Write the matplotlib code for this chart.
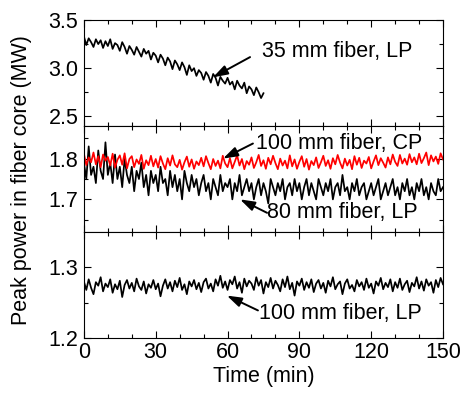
import matplotlib
matplotlib.use("Agg")
import matplotlib.pyplot as plt

plt.rcParams['font.family'] = ['Liberation Sans', 'DejaVu Sans']
plt.rcParams['font.size'] = 15.5

# --- data (1 min steps) ---
t35 = list(range(0, 76))
p35_lp = [3.33, 3.24, 3.31, 3.27, 3.22, 3.30, 3.25, 3.29, 3.21, 3.28,
          3.23, 3.30, 3.20, 3.26, 3.24, 3.18, 3.27, 3.22, 3.15, 3.23,
          3.19, 3.14, 3.22, 3.17, 3.12, 3.20, 3.15, 3.18, 3.09, 3.16,
          3.13, 3.06, 3.14, 3.10, 3.03, 3.11, 3.07, 2.99, 3.08, 3.04,
          2.98, 3.06, 3.01, 2.93, 3.03, 2.97, 3.00, 2.92, 2.98, 2.95,
          2.88, 2.96, 2.92, 2.85, 2.94, 2.90, 2.82, 2.91, 2.87, 2.84,
          2.90, 2.83, 2.86, 2.78, 2.87, 2.82, 2.79, 2.85, 2.74, 2.81,
          2.78, 2.72, 2.80, 2.75, 2.69, 2.74]

t100 = list(range(0, 151))
p100_cp = [1.812, 1.784, 1.803, 1.791, 1.815, 1.786, 1.806, 1.779, 1.810, 1.795,
           1.804, 1.783, 1.812, 1.778, 1.797, 1.808, 1.785, 1.813, 1.776, 1.799,
           1.806, 1.779, 1.798, 1.787, 1.809, 1.775, 1.796, 1.784, 1.807, 1.781,
           1.799, 1.778, 1.806, 1.788, 1.774, 1.801, 1.783, 1.808, 1.786, 1.779,
           1.797, 1.773, 1.791, 1.805, 1.780, 1.798, 1.775, 1.793, 1.784, 1.802,
           1.781, 1.806, 1.789, 1.774, 1.799, 1.782, 1.795, 1.776, 1.807, 1.788,
           1.779, 1.801, 1.776, 1.792, 1.808, 1.783, 1.799, 1.774, 1.794, 1.785,
           1.803, 1.777, 1.791, 1.809, 1.782, 1.796, 1.775, 1.802, 1.786, 1.807,
           1.789, 1.774, 1.800, 1.783, 1.795, 1.776, 1.808, 1.781, 1.798, 1.775,
           1.792, 1.806, 1.780, 1.799, 1.773, 1.794, 1.784, 1.803, 1.777, 1.791,
           1.807, 1.782, 1.796, 1.775, 1.801, 1.786, 1.809, 1.790, 1.776, 1.800,
           1.783, 1.797, 1.774, 1.806, 1.785, 1.802, 1.777, 1.795, 1.788, 1.804,
           1.776, 1.793, 1.808, 1.784, 1.801, 1.790, 1.778, 1.803, 1.786, 1.810,
           1.792, 1.782, 1.809, 1.788, 1.800, 1.785, 1.811, 1.791, 1.803, 1.786,
           1.812, 1.789, 1.801, 1.815, 1.784, 1.808, 1.793, 1.805, 1.787, 1.813,
           1.798]

p80_lp = [1.79, 1.75, 1.83, 1.76, 1.78, 1.74, 1.82, 1.77, 1.75, 1.84,
          1.76, 1.79, 1.74, 1.81, 1.75, 1.78, 1.73, 1.80, 1.76, 1.74,
          1.78, 1.72, 1.77, 1.75, 1.79, 1.73, 1.76, 1.71, 1.77, 1.74,
          1.76, 1.72, 1.78, 1.74, 1.75, 1.71, 1.77, 1.73, 1.76, 1.72,
          1.75, 1.70, 1.77, 1.74, 1.72, 1.76, 1.73, 1.75, 1.71, 1.74,
          1.76, 1.72, 1.74, 1.70, 1.75, 1.73, 1.71, 1.76, 1.72, 1.74,
          1.73, 1.75, 1.70, 1.74, 1.72, 1.76, 1.71, 1.73, 1.75, 1.72,
          1.74, 1.70, 1.73, 1.75, 1.71, 1.74, 1.72, 1.69, 1.75, 1.73,
          1.71, 1.74, 1.72, 1.75, 1.70, 1.73, 1.74, 1.71, 1.75, 1.72,
          1.74, 1.70, 1.73, 1.75, 1.71, 1.74, 1.72, 1.70, 1.75, 1.73,
          1.71, 1.74, 1.72, 1.75, 1.70, 1.73, 1.74, 1.71, 1.76, 1.72,
          1.73, 1.70, 1.74, 1.72, 1.75, 1.71, 1.73, 1.74, 1.70, 1.72,
          1.74, 1.71, 1.73, 1.75, 1.70, 1.72, 1.74, 1.71, 1.73, 1.75,
          1.71, 1.73, 1.70, 1.74, 1.72, 1.75, 1.71, 1.73, 1.70, 1.74,
          1.72, 1.75, 1.71, 1.73, 1.70, 1.74, 1.72, 1.71, 1.75, 1.72,
          1.73]

p100_lp = [1.280, 1.268, 1.283, 1.271, 1.262, 1.279, 1.274, 1.286, 1.266, 1.277,
           1.272, 1.283, 1.264, 1.276, 1.269, 1.281, 1.258, 1.275, 1.282, 1.270,
           1.278, 1.266, 1.284, 1.273, 1.268, 1.280, 1.263, 1.276, 1.271, 1.282,
           1.269, 1.277, 1.259, 1.274, 1.283, 1.270, 1.279, 1.266, 1.281, 1.272,
           1.285, 1.268, 1.276, 1.262, 1.280, 1.273, 1.282, 1.269, 1.278, 1.265,
           1.279, 1.284, 1.270, 1.277, 1.266, 1.283, 1.274, 1.288, 1.271, 1.280,
           1.268, 1.282, 1.276, 1.287, 1.270, 1.279, 1.264, 1.284, 1.273, 1.281,
           1.277, 1.268, 1.286, 1.274, 1.282, 1.263, 1.279, 1.272, 1.285, 1.270,
           1.281, 1.275, 1.266, 1.283, 1.272, 1.287, 1.269, 1.278, 1.260, 1.280,
           1.274, 1.284, 1.268, 1.279, 1.271, 1.283, 1.265, 1.277, 1.282, 1.270,
           1.278, 1.264, 1.281, 1.273, 1.286, 1.269, 1.276, 1.280, 1.262, 1.277,
           1.283, 1.270, 1.275, 1.266, 1.282, 1.273, 1.279, 1.268, 1.284, 1.271,
           1.277, 1.263, 1.280, 1.274, 1.285, 1.269, 1.278, 1.272, 1.283, 1.266,
           1.279, 1.271, 1.284, 1.268, 1.276, 1.281, 1.265, 1.278, 1.273, 1.286,
           1.270, 1.280, 1.267, 1.283, 1.274, 1.279, 1.264, 1.282, 1.272, 1.285,
           1.276]

# --- figure ---
fig = plt.figure(figsize=(4.61, 3.96), dpi=100)
gs = fig.add_gridspec(3, 1, left=0.182, right=0.961, top=0.9495, bottom=0.1465, hspace=0)
ax1 = fig.add_subplot(gs[0])
ax2 = fig.add_subplot(gs[1], sharex=ax1)
ax3 = fig.add_subplot(gs[2], sharex=ax1)

lw = 1.25
ax1.plot(t35, p35_lp, color='black', lw=lw)
ax2.plot(t100, p80_lp, color='black', lw=lw)
ax2.plot(t100, p100_cp, color='red', lw=lw)
ax3.plot(t100, p100_lp, color='black', lw=lw)

ax1.set_ylim(2.4, 3.5)
ax1.set_yticks([2.5, 3.0, 3.5])
ax1.set_yticks([2.75, 3.25], minor=True)
ax2.set_ylim(1.62, 1.88)
ax2.set_yticks([1.7, 1.8])
ax2.set_yticks([1.65, 1.75, 1.85], minor=True)
ax3.set_ylim(1.2, 1.35)
ax3.set_yticks([1.2, 1.3])
ax3.set_yticks([1.25], minor=True)

ax3.set_xlim(0, 150)
ax3.set_xticks(range(0, 151, 30))
ax3.set_xticks(range(0, 151, 10), minor=True)

for ax in (ax1, ax2, ax3):
    ax.tick_params(which='both', direction='in', top=True, right=True, width=0.8)
    ax.tick_params(which='major', length=5)
    ax.tick_params(which='minor', length=2.6)
    ax.tick_params(axis='y', pad=4)
ax1.tick_params(labelbottom=False)
ax2.tick_params(labelbottom=False)
ax3.tick_params(axis='x', pad=3)

ax1.yaxis.set_major_formatter(matplotlib.ticker.FormatStrFormatter('%.1f'))

ax3.set_xlabel('Time (min)', labelpad=2)
fig.text(0.047, 0.545, 'Peak power in fiber core (MW)', rotation=90, ha='center', va='center')

arrow = dict(arrowstyle='-|>,head_length=0.55,head_width=0.18', color='black',
             lw=1.4, mutation_scale=16, shrinkA=0, shrinkB=0)

ax1.annotate('', xy=(53.9, 2.905), xytext=(69.4, 3.115), arrowprops=arrow)
ax1.text(74.5, 3.17, '35 mm fiber, LP', ha='left', va='center')

ax2.annotate('', xy=(58.1, 1.800), xytext=(70.6, 1.837), arrowprops=arrow)
ax2.text(71.8, 1.837, '100 mm fiber, CP', ha='left', va='center')
ax2.annotate('', xy=(65.2, 1.700), xytext=(76.5, 1.667), arrowprops=arrow)
ax2.text(76.6, 1.667, '80 mm fiber, LP', ha='left', va='center')

ax3.annotate('', xy=(59.7, 1.260), xytext=(72.7, 1.239), arrowprops=arrow)
ax3.text(73.2, 1.2348, '100 mm fiber, LP', ha='left', va='center')

fig.savefig('out.png', dpi=100)
